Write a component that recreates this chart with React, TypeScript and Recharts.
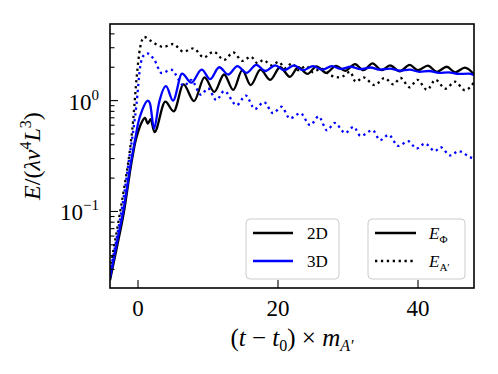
import React from "react"
import { LineChart, Line, XAxis, YAxis } from "recharts"

// 2D, E_Phi (black solid)
const tPhi2D = [-4, -3, -2, -1, -0.4, 0, 0.5, 1.0, 1.4, 1.8, 2.35, 3.9, 5.1, 6.5, 8.0, 9.5, 10.9, 12.3, 13.6, 14.9, 16.1, 17.5, 18.9, 20.3, 21.7, 22.9, 24.2, 25.5, 26.9, 28.3, 29.6, 31.0, 32.2, 33.5, 34.8, 36.0, 37.4, 38.8, 40.0, 41.4, 42.7, 44.1, 45.3, 46.7, 48]
const ePhi2D = [0.024, 0.048, 0.1, 0.26, 0.42, 0.52, 0.63, 0.7, 0.62, 0.68, 0.52, 0.98, 0.8, 1.4, 0.99, 1.62, 1.2, 1.72, 1.25, 1.88, 1.38, 1.9, 1.54, 2.0, 1.64, 2.0, 1.74, 2.04, 1.78, 2.06, 1.86, 2.13, 1.88, 2.17, 1.88, 2.08, 1.84, 2.1, 1.88, 2.07, 1.82, 2.02, 1.8, 1.98, 1.72]

// 3D, E_Phi (blue solid)
const tPhi3D = [-4, -3, -2, -1, -0.4, 0, 0.6, 1.4, 1.7, 2.3, 3.0, 4.0, 5.0, 6.3, 7.6, 9.1, 10.3, 11.6, 12.9, 14.2, 15.5, 16.9, 18.2, 19.6, 20.9, 22.3, 23.6, 25.0, 26.3, 27.7, 29.0, 30.4, 31.8, 33.2, 34.6, 36.0, 37.4, 38.8, 40.2, 41.6, 43.0, 44.4, 45.8, 47.2, 48]
const ePhi3D = [0.025, 0.053, 0.11, 0.28, 0.45, 0.62, 0.82, 1.0, 0.95, 0.56, 0.95, 1.35, 1.0, 1.75, 1.45, 1.9, 1.56, 2.0, 1.72, 2.05, 1.78, 2.1, 1.85, 2.08, 1.88, 2.08, 1.88, 2.05, 1.9, 2.05, 1.93, 2.02, 1.92, 1.99, 1.9, 1.94, 1.86, 1.9, 1.82, 1.85, 1.78, 1.8, 1.74, 1.75, 1.7]

// 2D, E_A' (black dotted)
const tA2D = [-4, -3, -2, -1.2, -0.7, -0.2, 0.3, 0.9, 1.7, 2.9, 3.6, 5.0, 6.5, 7.9, 9.4, 10.8, 12.3, 13.6, 14.9, 16.1, 17.1, 17.9, 19.1, 20.1, 21.0, 22.0, 22.9, 24.0, 25.0, 26.1, 27.6, 28.9, 30.3, 31.1, 32.2, 33.8, 35.2, 36.5, 37.5, 38.8, 39.9, 41.3, 42.5, 43.9, 45.3, 46.7, 48]
const eA2D = [0.03, 0.068, 0.16, 0.34, 0.65, 1.6, 3.0, 3.75, 3.5, 3.15, 3.05, 3.24, 2.76, 2.96, 2.45, 2.76, 2.33, 2.72, 2.28, 2.49, 2.17, 2.32, 2.08, 2.24, 1.96, 2.17, 1.88, 2.05, 1.8, 1.95, 1.68, 1.62, 1.82, 1.48, 1.62, 1.38, 1.6, 1.4, 1.6, 1.32, 1.54, 1.25, 1.54, 1.28, 1.48, 1.24, 1.46]

// 3D, E_A' (blue dotted)
const tA3D = [-4, -3, -2, -1.2, -0.6, -0.2, 0.3, 0.8, 1.3, 2.3, 3.4, 4.7, 6.6, 7.6, 9.0, 10.0, 11.2, 12.3, 14.1, 15.4, 16.7, 18.0, 19.3, 20.5, 21.7, 23.2, 24.6, 25.8, 27.0, 28.1, 29.6, 30.8, 31.8, 33.5, 34.6, 35.8, 37.2, 38.6, 39.8, 41.0, 42.4, 43.2, 44.6, 45.8, 47.4, 48]
const eA3D = [0.028, 0.06, 0.14, 0.32, 0.58, 0.95, 2.0, 2.55, 2.67, 2.35, 1.77, 1.9, 1.36, 1.54, 1.13, 1.29, 1.01, 1.22, 0.91, 1.11, 0.84, 0.97, 0.77, 0.88, 0.69, 0.77, 0.6, 0.72, 0.54, 0.63, 0.51, 0.58, 0.48, 0.54, 0.44, 0.49, 0.39, 0.43, 0.37, 0.41, 0.35, 0.38, 0.32, 0.35, 0.31, 0.3]

const xTicks = [0, 20, 40]
const yMajorTicks = [0.1, 1]
const yMajorExp: Record<string, string> = { "0.1": "\u22121", "1": "0" }
const yMinorTicks = [0.03, 0.04, 0.05, 0.06, 0.07, 0.08, 0.09, 0.2, 0.3, 0.4, 0.5, 0.6, 0.7, 0.8, 0.9, 2, 3, 4]

const W = 498
const H = 374
const LEFT = 110
const TOP = 24
const RIGHT = 474
const BOTTOM = 288
const SERIF = "'Liberation Serif', 'DejaVu Serif', serif"
const LW = 2.3

const zip = (t: number[], v: number[]) => t.map((x, i) => ({ t: x, v: v[i] }))

function XTick(props: any) {
  const { x, y, payload } = props
  return (
    <g>
      <line x1={x} x2={x} y1={y} y2={y - 8} stroke="#000" strokeWidth={1.1} />
      <text x={x} y={y + 28} textAnchor="middle" fontSize={23} fontFamily={SERIF} fill="#000">
        {payload.value}
      </text>
    </g>
  )
}

function YTick(props: any) {
  const { x, y, payload } = props
  const major = yMajorTicks.includes(payload.value)
  return (
    <g>
      <line x1={x} x2={x + (major ? 8 : 4.5)} y1={y} y2={y} stroke="#000" strokeWidth={1.1} />
      {major && (
        <text x={x - 11} y={y + 9} textAnchor="end" fontSize={23} fontFamily={SERIF} fill="#000">
          10
          <tspan dy={-10} fontSize={15}>{yMajorExp[String(payload.value)]}</tspan>
        </text>
      )}
    </g>
  )
}

export default function App() {
  return (
    <div style={{ position: "absolute", left: 0, top: 0, width: W, height: H, background: "#fff" }}>
      <LineChart width={W} height={H} margin={{ top: TOP, right: W - RIGHT, bottom: 0, left: 0 }}>
        <XAxis
          dataKey="t"
          type="number"
          domain={[-4, 48]}
          allowDataOverflow
          ticks={xTicks}
          interval={0}
          height={H - BOTTOM}
          axisLine={false}
          tickLine={false}
          tickSize={0}
          tickMargin={0}
          tick={<XTick />}
        />
        <YAxis
          type="number"
          scale="log"
          domain={[0.0204, 4.91]}
          allowDataOverflow
          ticks={[...yMinorTicks, ...yMajorTicks].sort((a, b) => a - b)}
          interval={0}
          width={LEFT}
          axisLine={false}
          tickLine={false}
          tickSize={0}
          tickMargin={0}
          tick={<YTick />}
        />
        <Line data={zip(tPhi2D, ePhi2D)} dataKey="v" type="monotone" stroke="#000" strokeWidth={LW} dot={false} isAnimationActive={false} />
        <Line data={zip(tA2D, eA2D)} dataKey="v" type="monotone" stroke="#000" strokeWidth={LW} strokeDasharray="2.3 3.6" dot={false} isAnimationActive={false} />
        <Line data={zip(tPhi3D, ePhi3D)} dataKey="v" type="monotone" stroke="#0000ff" strokeWidth={LW} dot={false} isAnimationActive={false} />
        <Line data={zip(tA3D, eA3D)} dataKey="v" type="monotone" stroke="#0000ff" strokeWidth={LW} strokeDasharray="2.3 3.6" dot={false} isAnimationActive={false} />
      </LineChart>

      <svg width={W} height={H} style={{ position: "absolute", left: 0, top: 0, pointerEvents: "none" }} fontFamily={SERIF}>
        <rect x={LEFT} y={TOP} width={RIGHT - LEFT} height={BOTTOM - TOP} fill="none" stroke="#000" strokeWidth={1.6} />

        {/* legend: dimension */}
        <rect x={246} y={219} width={93} height={60} rx={4} fill="#fff" fillOpacity={0.8} stroke="#ccc" />
        <line x1={253} x2={293} y1={233} y2={233} stroke="#000" strokeWidth={LW} />
        <text x={307} y={239} fontSize={17} fill="#000">2D</text>
        <line x1={253} x2={293} y1={261} y2={261} stroke="#0000ff" strokeWidth={LW} />
        <text x={307} y={267} fontSize={17} fill="#000">3D</text>

        {/* legend: energy component */}
        <rect x={368} y={219} width={97} height={60} rx={4} fill="#fff" fillOpacity={0.8} stroke="#ccc" />
        <line x1={375} x2={416} y1={233} y2={233} stroke="#000" strokeWidth={LW} />
        <text x={429} y={239} fontSize={17} fill="#000">
          <tspan fontStyle="italic">E</tspan>
          <tspan dy={4} fontSize={11}>Φ</tspan>
        </text>
        <line x1={375} x2={416} y1={261} y2={261} stroke="#000" strokeWidth={LW} strokeDasharray="2.3 3.6" />
        <text x={429} y={267} fontSize={17} fill="#000">
          <tspan fontStyle="italic">E</tspan>
          <tspan dy={4} fontSize={11}>A′</tspan>
        </text>

        {/* axis titles */}
        <text transform="rotate(-90)" x={-156} y={40} textAnchor="middle" fontSize={24} fill="#000">
          <tspan fontStyle="italic">E</tspan>/(<tspan fontStyle="italic">λv</tspan>
          <tspan dy={-9} fontSize={16}>4</tspan>
          <tspan dy={9} fontStyle="italic">L</tspan>
          <tspan dy={-9} fontSize={16}>3</tspan>
          <tspan dy={9}>)</tspan>
        </text>
        <text x={292} y={346} textAnchor="middle" fontSize={25} fill="#000">
          (<tspan fontStyle="italic">t</tspan> − <tspan fontStyle="italic">t</tspan>
          <tspan dy={5} fontSize={16}>0</tspan>
          <tspan dy={-5}>) × </tspan>
          <tspan fontStyle="italic">m</tspan>
          <tspan dy={5} fontSize={16} fontStyle="italic">A′</tspan>
        </text>
      </svg>
    </div>
  )
}
